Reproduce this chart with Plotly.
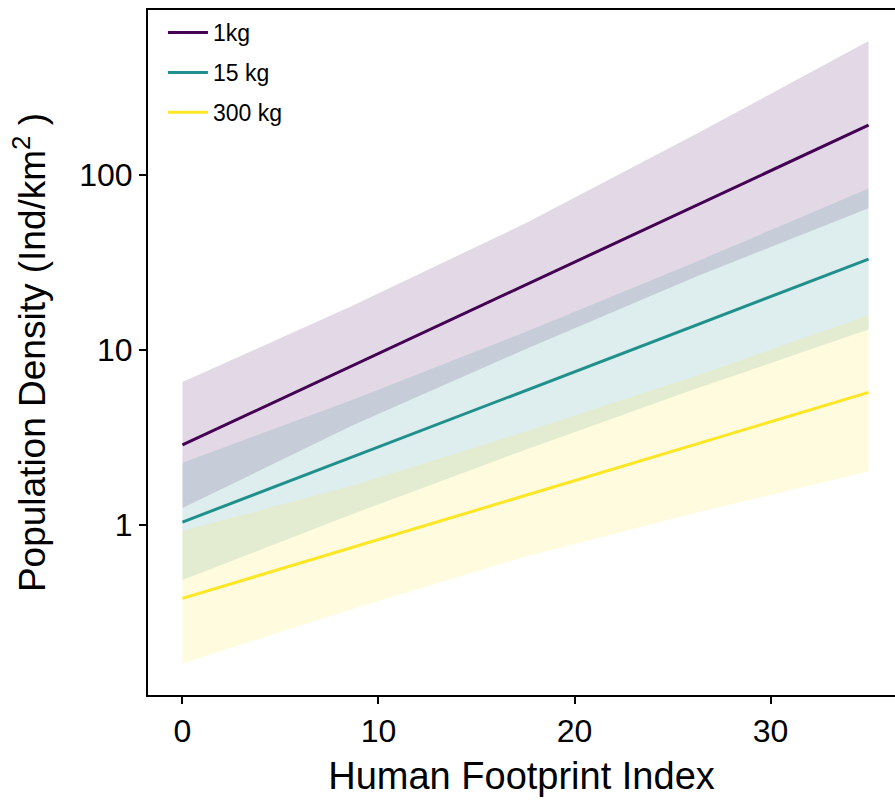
import plotly.graph_objects as go

# Human Footprint Index values for the fitted lines
hfi_line = [0, 17.5, 35]
# Human Footprint Index values for the confidence ribbons
hfi_band = [0, 8.75, 17.5, 26.25, 35]

# Predicted population density (Ind/km^2) and confidence limits by body mass
dens_1kg = [2.87, 23.6, 193]
lo_1kg = [1.25, 3.74, 10.1, 26.4, 64.5]
hi_1kg = [6.56, 18.1, 53.0, 172.6, 583]

dens_15kg = [1.04, 5.85, 33.1]
lo_15kg = [0.485, 1.164, 2.69, 6.04, 13.1]
hi_15kg = [2.27, 5.24, 12.7, 32.1, 83.7]

dens_300kg = [0.381, 1.47, 5.73]
lo_300kg = [0.162, 0.334, 0.66, 1.18, 2.02]
hi_300kg = [0.924, 1.69, 3.42, 7.16, 15.8]

labels = ["1kg", "15 kg", "300 kg"]
colors = ["#440154", "#21908C", "#FDE725"]
fills = ["rgba(68,1,84,0.15)", "rgba(33,144,140,0.15)", "rgba(253,231,37,0.15)"]

series = [
    (dens_1kg, lo_1kg, hi_1kg),
    (dens_15kg, lo_15kg, hi_15kg),
    (dens_300kg, lo_300kg, hi_300kg),
]

FONT = "Liberation Sans, Arial, sans-serif"

fig = go.Figure()

# Confidence ribbons
for (mid, lo, hi), fc, name in zip(series, fills, labels):
    fig.add_trace(go.Scatter(
        x=hfi_band + hfi_band[::-1],
        y=hi + lo[::-1],
        fill="toself",
        fillcolor=fc,
        line=dict(width=0),
        mode="lines",
        hoverinfo="skip",
        showlegend=False,
        legendgroup=name,
    ))

# Fitted lines
for (mid, lo, hi), col, name in zip(series, colors, labels):
    fig.add_trace(go.Scatter(
        x=hfi_line,
        y=mid,
        mode="lines",
        line=dict(color=col, width=3),
        name=name,
        legendgroup=name,
    ))

fig.update_layout(
    width=895,
    height=808,
    margin=dict(l=148, r=0, t=10, b=113),
    paper_bgcolor="white",
    plot_bgcolor="white",
    font=dict(family=FONT, color="black"),
    legend=dict(
        x=0.020, y=0.9985, xanchor="left", yanchor="top",
        font=dict(size=23, family=FONT, color="black"),
        bgcolor="rgba(0,0,0,0)",
        tracegroupgap=7,
        itemwidth=40,
    ),
    xaxis=dict(
        range=[-1.757, 36.35],
        tickvals=[0, 10, 20, 30],
        ticks="outside",
        ticklen=7,
        tickwidth=1.5,
        tickcolor="black",
        showline=True,
        linecolor="black",
        linewidth=2,
        mirror=True,
        showgrid=False,
        zeroline=False,
        tickfont=dict(size=32, family=FONT),
        title=dict(text="Human Footprint Index", font=dict(size=38, family=FONT), standoff=14),
    ),
    yaxis=dict(
        type="log",
        range=[-0.971, 2.943],
        tickvals=[1, 10, 100],
        ticktext=["1", "10", "100"],
        ticks="outside",
        ticklen=7,
        tickwidth=1.5,
        tickcolor="black",
        showline=True,
        linecolor="black",
        linewidth=2,
        mirror=False,
        showgrid=False,
        zeroline=False,
        tickfont=dict(size=32, family=FONT),
        title=dict(text="Population Density (Ind/km<sup>2</sup> )", font=dict(size=37, family=FONT), standoff=22),
    ),
)

fig.write_html("out.html")
